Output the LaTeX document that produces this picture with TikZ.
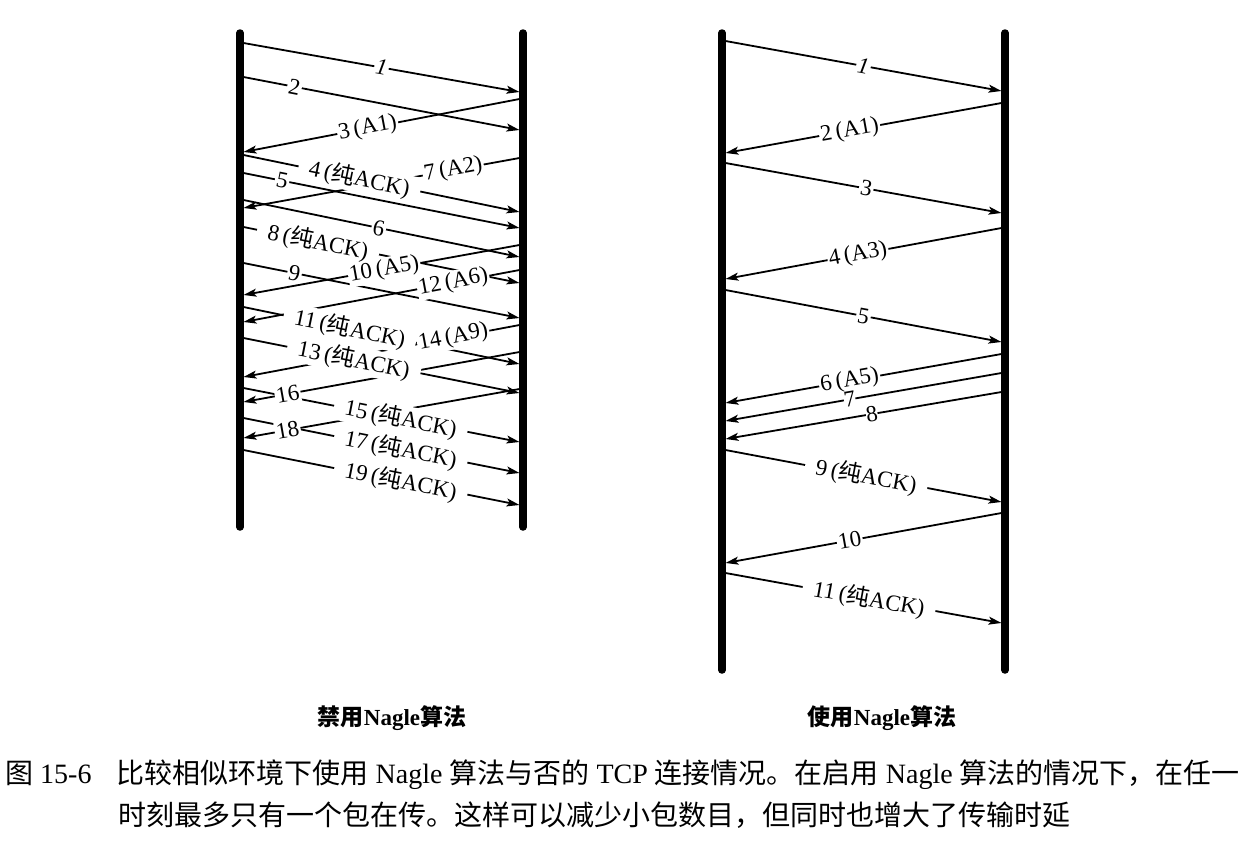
\documentclass[tikz,border=0pt]{standalone}
\usepackage{fontspec}
\setmainfont{Liberation Serif}
\newfontfamily\cjk{Noto Sans CJK SC}
\usepackage{tikz}
\usetikzlibrary{arrows.meta}
\newcommand{\pureack}[1]{#1\,({\cjk 纯}ACK)}
\tikzset{
    lifeline/.style = {line width=7.5pt, line cap=round},
    msg/.style      = {-{Stealth[length=13pt, width=8pt, inset=3pt]}, line width=1.8pt},
    msglbl/.style   = {font=\fontsize{23}{25}\selectfont, fill=white, inner sep=1.5pt, sloped},
    acklbl/.style   = {msglbl, inner xsep=11pt},
    sidetitle/.style= {font=\fontsize{23}{25}\selectfont\bfseries},
    capline/.style  = {font=\fontsize{28}{30}\selectfont, anchor=west, inner sep=0pt},
}

\begin{document}
\begin{tikzpicture}[x=1pt, y=-1pt]
\useasboundingbox (0,0) rectangle (1248,844);

% lifelines
\coordinate (offCtop) at (240,33);  \coordinate (offCbot) at (240,527);
\coordinate (offStop) at (523,33);  \coordinate (offSbot) at (523,527);
\coordinate (onCtop)  at (722,33);  \coordinate (onCbot)  at (722,670);
\coordinate (onStop)  at (1005,33); \coordinate (onSbot)  at (1005,670);
\draw[lifeline] (offCtop) -- (offCbot);
\draw[lifeline] (offStop) -- (offSbot);
\draw[lifeline] (onCtop) -- (onCbot);
\draw[lifeline] (onStop) -- (onSbot);

% Nagle disabled: end points
\coordinate (off1a)  at (243.5,43);  \coordinate (off1b)  at (519.5,92);
\coordinate (off2a)  at (243.5,77);  \coordinate (off2b)  at (519.5,130);
\coordinate (off3a)  at (519.5,99);  \coordinate (off3b)  at (243.5,152);
\coordinate (off4a)  at (243.5,155); \coordinate (off4b)  at (519.5,212);
\coordinate (off5a)  at (243.5,173); \coordinate (off5b)  at (519.5,228);
\coordinate (off6a)  at (243.5,200); \coordinate (off6b)  at (519.5,257);
\coordinate (off7a)  at (519.5,158); \coordinate (off7b)  at (243.5,208);
\coordinate (off8a)  at (243.5,227); \coordinate (off8b)  at (519.5,283);
\coordinate (off9a)  at (243.5,263); \coordinate (off9b)  at (519.5,318);
\coordinate (off10a) at (519.5,245); \coordinate (off10b) at (243.5,295);
\coordinate (off11a) at (243.5,307); \coordinate (off11b) at (519.5,364);
\coordinate (off12a) at (519.5,270); \coordinate (off12b) at (243.5,322);
\coordinate (off13a) at (243.5,338); \coordinate (off13b) at (519.5,393);
\coordinate (off14a) at (519.5,325); \coordinate (off14b) at (243.5,377);
\coordinate (off15a) at (243.5,388); \coordinate (off15b) at (519.5,442);
\coordinate (off16a) at (519.5,352); \coordinate (off16b) at (243.5,402);
\coordinate (off17a) at (243.5,418); \coordinate (off17b) at (519.5,473);
\coordinate (off18a) at (519.5,389); \coordinate (off18b) at (243.5,438);
\coordinate (off19a) at (243.5,450); \coordinate (off19b) at (519.5,505);

% Nagle enabled: end points
\coordinate (on1a)  at (725.5,41);  \coordinate (on1b)  at (1001.5,91);
\coordinate (on2a)  at (1001.5,103); \coordinate (on2b) at (725.5,153);
\coordinate (on3a)  at (725.5,163); \coordinate (on3b)  at (1001.5,213);
\coordinate (on4a)  at (1001.5,228); \coordinate (on4b) at (725.5,279);
\coordinate (on5a)  at (725.5,290); \coordinate (on5b)  at (1001.5,342);
\coordinate (on6a)  at (1001.5,354); \coordinate (on6b) at (725.5,403);
\coordinate (on7a)  at (1001.5,373); \coordinate (on7b) at (725.5,421);
\coordinate (on8a)  at (1001.5,392); \coordinate (on8b) at (725.5,439);
\coordinate (on9a)  at (725.5,450); \coordinate (on9b)  at (1001.5,502);
\coordinate (on10a) at (1001.5,513); \coordinate (on10b) at (725.5,563);
\coordinate (on11a) at (725.5,573); \coordinate (on11b) at (1001.5,623);

% segments
\draw[msg] (off1a) -- (off1b);
\draw[msg] (off2a) -- (off2b);
\draw[msg] (off3a) -- (off3b);
\draw[msg] (off4a) -- (off4b);
\draw[msg] (off5a) -- (off5b);
\draw[msg] (off6a) -- (off6b);
\draw[msg] (off7a) -- (off7b);
\draw[msg] (off8a) -- (off8b);
\draw[msg] (off9a) -- (off9b);
\draw[msg] (off10a) -- (off10b);
\draw[msg] (off11a) -- (off11b);
\draw[msg] (off12a) -- (off12b);
\draw[msg] (off13a) -- (off13b);
\draw[msg] (off14a) -- (off14b);
\draw[msg] (off15a) -- (off15b);
\draw[msg] (off16a) -- (off16b);
\draw[msg] (off17a) -- (off17b);
\draw[msg] (off18a) -- (off18b);
\draw[msg] (off19a) -- (off19b);

\draw[msg] (on1a) -- (on1b);
\draw[msg] (on2a) -- (on2b);
\draw[msg] (on3a) -- (on3b);
\draw[msg] (on4a) -- (on4b);
\draw[msg] (on5a) -- (on5b);
\draw[msg] (on6a) -- (on6b);
\draw[msg] (on7a) -- (on7b);
\draw[msg] (on8a) -- (on8b);
\draw[msg] (on9a) -- (on9b);
\draw[msg] (on10a) -- (on10b);
\draw[msg] (on11a) -- (on11b);

% labels go on top of every segment
\path (off1a) -- (off1b) node[msglbl, pos=.50] (offL1) {\textit{1}};
\path (off2a) -- (off2b) node[msglbl, pos=.185] (offL2) {2};
\path (off3a) -- (off3b) node[msglbl, pos=.55] (offL3) {3\,(A1)};
\path (off4a) -- (off4b) node[acklbl, pos=.42] (offL4) {\pureack{4}};
\path (off5a) -- (off5b) node[msglbl, pos=.14] (offL5) {5};
\path (off6a) -- (off6b) node[msglbl, pos=.49] (offL6) {6};
\path (off7a) -- (off7b) node[msglbl, pos=.24] (offL7) {7\,(A2)};
\path (off8a) -- (off8b) node[acklbl, pos=.27] (offL8) {\pureack{8}};
\path (off9a) -- (off9b) node[msglbl, pos=.185] (offL9) {9};
\path (off10a) -- (off10b) node[msglbl, pos=.49] (offL10) {10\,(A5)};
\path (off11a) -- (off11b) node[acklbl, pos=.385] (offL11) {\pureack{11}};
\path (off12a) -- (off12b) node[msglbl, pos=.24] (offL12) {12\,(A6)};
\path (off13a) -- (off13b) node[acklbl, pos=.40] (offL13) {\pureack{13}};
\path (off14a) -- (off14b) node[msglbl, pos=.24] (offL14) {14\,(A9)};
\path (off15a) -- (off15b) node[acklbl, pos=.57] (offL15) {\pureack{15}};
\path (off16a) -- (off16b) node[msglbl, pos=.84] (offL16) {16};
\path (off17a) -- (off17b) node[acklbl, pos=.57] (offL17) {\pureack{17}};
\path (off18a) -- (off18b) node[msglbl, pos=.84] (offL18) {18};
\path (off19a) -- (off19b) node[acklbl, pos=.57] (offL19) {\pureack{19}};

\path (on1a) -- (on1b) node[msglbl, pos=.50] (onL1) {\textit{1}};
\path (on2a) -- (on2b) node[msglbl, pos=.55] (onL2) {2\,(A1)};
\path (on3a) -- (on3b) node[msglbl, pos=.51] (onL3) {3};
\path (on4a) -- (on4b) node[msglbl, pos=.52] (onL4) {4\,(A3)};
\path (on5a) -- (on5b) node[msglbl, pos=.50] (onL5) {5};
\path (on6a) -- (on6b) node[msglbl, pos=.55] (onL6) {6\,(A5)};
\path (on7a) -- (on7b) node[msglbl, pos=.55, inner sep=0pt] (onL7) {7};
\path (on8a) -- (on8b) node[msglbl, pos=.47, inner sep=0pt] (onL8) {8};
\path (on9a) -- (on9b) node[acklbl, pos=.51] (onL9) {\pureack{9}};
\path (on10a) -- (on10b) node[msglbl, pos=.55] (onL10) {10};
\path (on11a) -- (on11b) node[acklbl, pos=.52] (onL11) {\pureack{11}};

% titles and caption
\node[sidetitle] (offTitle) at (392,718) {{\cjk 禁用}Nagle{\cjk 算法}};
\node[sidetitle] (onTitle)  at (882,718) {{\cjk 使用}Nagle{\cjk 算法}};
\node[capline] (capA) at (5,775)
    {{\cjk 图} 15-6\hspace{0.9em}{\cjk 比较相似环境下使用} Nagle {\cjk 算法与否的} TCP {\cjk 连接情况。在启用} Nagle {\cjk 算法的情况下，在任一}};
\node[capline] (capB) at (118,815)
    {{\cjk 时刻最多只有一个包在传。这样可以减少小包数目，但同时也增大了传输时延}};

\end{tikzpicture}
\end{document}
